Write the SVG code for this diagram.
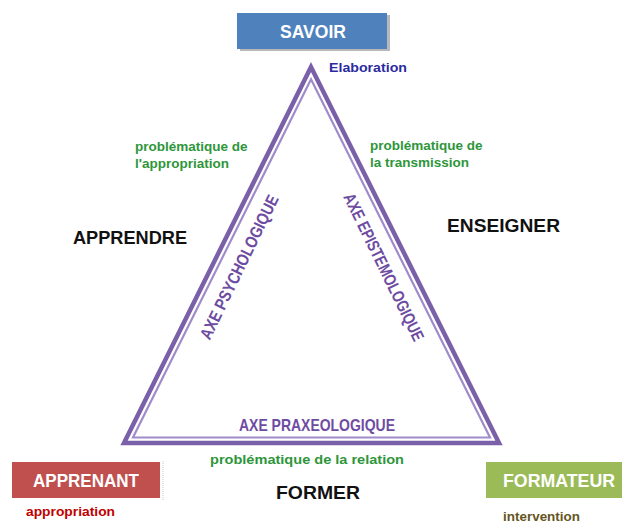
<svg xmlns="http://www.w3.org/2000/svg" width="622" height="524" viewBox="0 0 622 524">
  <style>
    .box-label { font-family: "Liberation Sans", Arial, sans-serif; font-weight: bold; fill: #ffffff; text-anchor: middle; }
    .green { font-family: "Liberation Sans", Arial, sans-serif; font-weight: bold; font-size: 13.5px; fill: #2e963a; }
    .verb { font-family: "Liberation Sans", Arial, sans-serif; font-weight: bold; font-size: 17.5px; fill: #111111; }
    .axis { font-family: "Liberation Sans", Arial, sans-serif; font-weight: bold; font-size: 17px; fill: #6e4ca2; text-anchor: middle; }
    .sub { font-family: "Liberation Sans", Arial, sans-serif; font-weight: bold; font-size: 13.5px; }
    .tri-outer { fill: none; stroke: #7a60a9; stroke-width: 4.5; stroke-linejoin: miter; }
    .tri-inner { fill: none; stroke: #a08cca; stroke-width: 2.2; stroke-linejoin: miter; }
  </style>
  <rect width="622" height="524" fill="#ffffff"/>

  <g id="connectors">
    <polygon class="tri-outer" points="311,67 124,443 499,443"/>
    <polygon class="tri-inner" points="311,79.3 133,437.5 490,437.5"/>
    <text class="axis" transform="translate(239,267) rotate(-64)" x="0" y="6" textLength="158" lengthAdjust="spacingAndGlyphs">AXE PSYCHOLOGIQUE</text>
    <text class="axis" transform="translate(384,267) rotate(64)" x="0" y="6" textLength="162" lengthAdjust="spacingAndGlyphs">AXE EPISTEMOLOGIQUE</text>
    <text class="axis" x="317" y="431" textLength="156" lengthAdjust="spacingAndGlyphs">AXE PRAXEOLOGIQUE</text>
  </g>

  <g id="savoir">
    <rect x="240" y="15" width="150" height="36" fill="#b8b8b8"/>
    <rect x="237" y="13" width="150" height="36" fill="#4f81bd"/>
    <text class="box-label" x="313" y="38" font-size="18" textLength="66" lengthAdjust="spacingAndGlyphs">SAVOIR</text>
    <text class="sub" x="329" y="72" fill="#2b2b9f" textLength="78" lengthAdjust="spacingAndGlyphs">Elaboration</text>
  </g>

  <g id="apprenant">
    <line x1="163" y1="461" x2="163" y2="500" stroke="#c8c8c8" stroke-width="1" stroke-dasharray="1,1"/>
    <rect x="12" y="462" width="148" height="36" fill="#c0504d"/>
    <text class="box-label" x="86" y="487" font-size="19" textLength="106" lengthAdjust="spacingAndGlyphs">APPRENANT</text>
    <text class="sub" x="26" y="516" fill="#c00000" textLength="89" lengthAdjust="spacingAndGlyphs">appropriation</text>
  </g>

  <g id="formateur">
    <rect x="486" y="462" width="136" height="36" fill="#9bbb59"/>
    <text class="box-label" x="559" y="487" font-size="19" textLength="112" lengthAdjust="spacingAndGlyphs">FORMATEUR</text>
    <text class="sub" x="503" y="521" fill="#665522" textLength="77" lengthAdjust="spacingAndGlyphs">intervention</text>
  </g>

  <g id="apprendre">
    <text class="green" x="135" y="151">problématique de</text>
    <text class="green" x="135" y="168">l'appropriation</text>
    <text class="verb" x="73" y="244" textLength="114" lengthAdjust="spacingAndGlyphs">APPRENDRE</text>
  </g>

  <g id="enseigner">
    <text class="green" x="370" y="150">problématique de</text>
    <text class="green" x="370" y="167">la transmission</text>
    <text class="verb" x="447" y="232" textLength="113" lengthAdjust="spacingAndGlyphs">ENSEIGNER</text>
  </g>

  <g id="former">
    <text class="green" x="210" y="464" textLength="194" lengthAdjust="spacingAndGlyphs">problématique de la relation</text>
    <text class="verb" x="276" y="499" textLength="84" lengthAdjust="spacingAndGlyphs">FORMER</text>
  </g>
</svg>
